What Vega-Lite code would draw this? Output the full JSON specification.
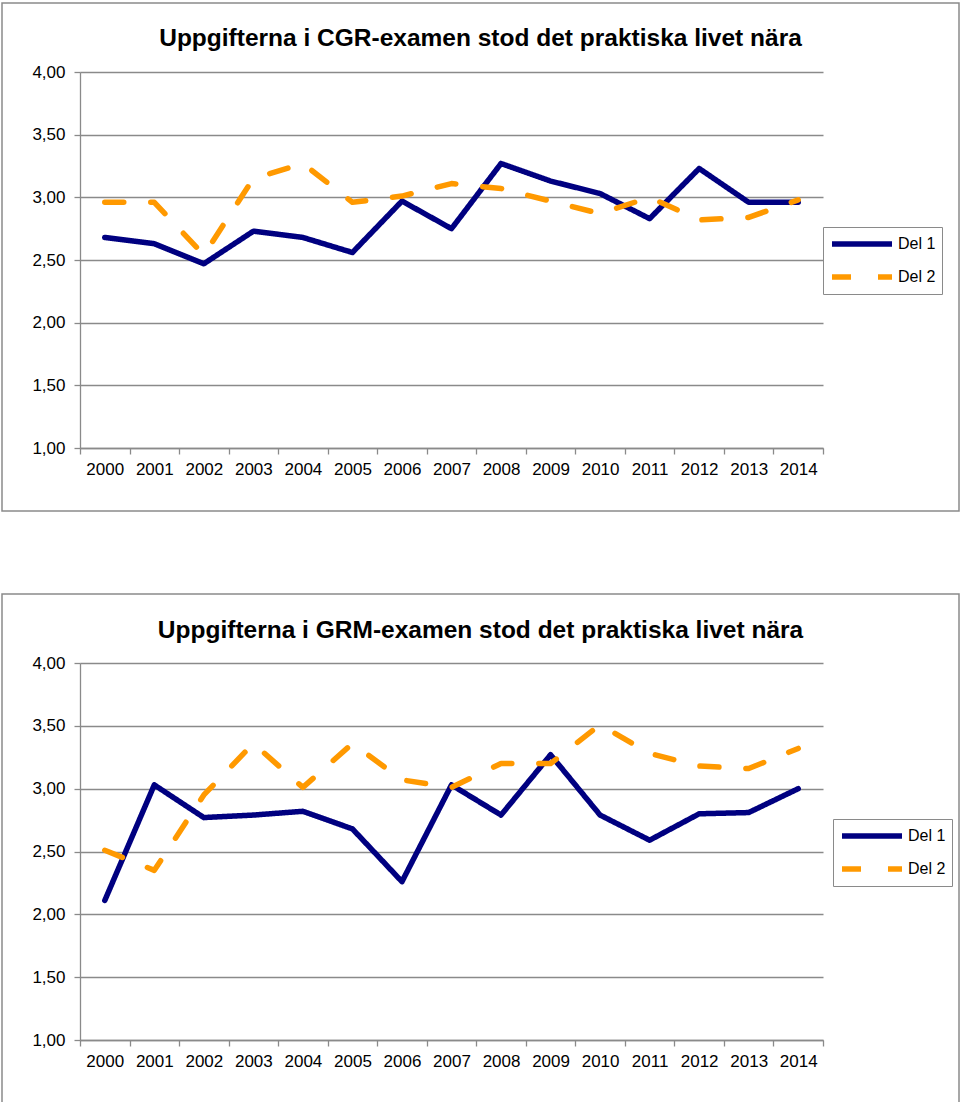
{
  "$schema": "https://vega.github.io/schema/vega-lite/v6.json",
  "padding": {"left": 1, "top": 2, "right": 0, "bottom": 0},
  "autosize": {"type": "pad"},
  "spacing": 81,
  "background": "white",
  "resolve": {
    "scale": {"color": "independent", "strokeDash": "independent"},
    "legend": {"color": "independent", "strokeDash": "independent"}
  },
  "config": {
    "font": "Liberation Sans",
    "view": {"stroke": "#8a8a8a", "strokeWidth": 1.5},
    "axis": {
      "domainColor": "#8a8a8a",
      "tickColor": "#8a8a8a",
      "gridColor": "#8a8a8a",
      "domainWidth": 1.3,
      "tickWidth": 1.3,
      "gridWidth": 1.3,
      "labelColor": "#000000",
      "labelFont": "Liberation Sans",
      "labelFontSize": 17,
      "title": null
    },
    "legend": {
      "orient": "none",
      "title": null,
      "strokeColor": "#8a8a8a",
      "fillColor": "white",
      "padding": 6,
      "symbolType": "stroke",
      "symbolSize": 3600,
      "symbolStrokeWidth": 5.5,
      "clipHeight": 22,
      "rowPadding": 11,
      "labelOffset": 3,
      "labelFontSize": 16,
      "labelColor": "#000000",
      "labelFont": "Liberation Sans"
    },
    "title": {"font": "Liberation Sans", "fontSize": 24.5, "fontWeight": "bold", "color": "#000000"}
  },
  "datasets": {
    "cgr": [
      {"year": "2000", "series": "Del 1", "value": 2.68},
      {"year": "2001", "series": "Del 1", "value": 2.63},
      {"year": "2002", "series": "Del 1", "value": 2.47},
      {"year": "2003", "series": "Del 1", "value": 2.73},
      {"year": "2004", "series": "Del 1", "value": 2.68},
      {"year": "2005", "series": "Del 1", "value": 2.56},
      {"year": "2006", "series": "Del 1", "value": 2.97},
      {"year": "2007", "series": "Del 1", "value": 2.75},
      {"year": "2008", "series": "Del 1", "value": 3.27},
      {"year": "2009", "series": "Del 1", "value": 3.13},
      {"year": "2010", "series": "Del 1", "value": 3.03},
      {"year": "2011", "series": "Del 1", "value": 2.83},
      {"year": "2012", "series": "Del 1", "value": 3.23},
      {"year": "2013", "series": "Del 1", "value": 2.96},
      {"year": "2014", "series": "Del 1", "value": 2.96},
      {"year": "2000", "series": "Del 2", "value": 2.96},
      {"year": "2001", "series": "Del 2", "value": 2.96},
      {"year": "2002", "series": "Del 2", "value": 2.54},
      {"year": "2003", "series": "Del 2", "value": 3.15},
      {"year": "2004", "series": "Del 2", "value": 3.27},
      {"year": "2005", "series": "Del 2", "value": 2.96},
      {"year": "2006", "series": "Del 2", "value": 3.01},
      {"year": "2007", "series": "Del 2", "value": 3.11},
      {"year": "2008", "series": "Del 2", "value": 3.07},
      {"year": "2009", "series": "Del 2", "value": 2.97},
      {"year": "2010", "series": "Del 2", "value": 2.87},
      {"year": "2011", "series": "Del 2", "value": 3.00},
      {"year": "2012", "series": "Del 2", "value": 2.82},
      {"year": "2013", "series": "Del 2", "value": 2.84},
      {"year": "2014", "series": "Del 2", "value": 2.98}
    ],
    "grm": [
      {"year": "2000", "series": "Del 1", "value": 2.11},
      {"year": "2001", "series": "Del 1", "value": 3.03},
      {"year": "2002", "series": "Del 1", "value": 2.77},
      {"year": "2003", "series": "Del 1", "value": 2.79},
      {"year": "2004", "series": "Del 1", "value": 2.82},
      {"year": "2005", "series": "Del 1", "value": 2.68},
      {"year": "2006", "series": "Del 1", "value": 2.26},
      {"year": "2007", "series": "Del 1", "value": 3.03},
      {"year": "2008", "series": "Del 1", "value": 2.79},
      {"year": "2009", "series": "Del 1", "value": 3.27},
      {"year": "2010", "series": "Del 1", "value": 2.79},
      {"year": "2011", "series": "Del 1", "value": 2.59},
      {"year": "2012", "series": "Del 1", "value": 2.80},
      {"year": "2013", "series": "Del 1", "value": 2.81},
      {"year": "2014", "series": "Del 1", "value": 3.00},
      {"year": "2000", "series": "Del 2", "value": 2.51},
      {"year": "2001", "series": "Del 2", "value": 2.35},
      {"year": "2002", "series": "Del 2", "value": 2.95},
      {"year": "2003", "series": "Del 2", "value": 3.36},
      {"year": "2004", "series": "Del 2", "value": 3.01},
      {"year": "2005", "series": "Del 2", "value": 3.36},
      {"year": "2006", "series": "Del 2", "value": 3.07},
      {"year": "2007", "series": "Del 2", "value": 3.01},
      {"year": "2008", "series": "Del 2", "value": 3.20},
      {"year": "2009", "series": "Del 2", "value": 3.20},
      {"year": "2010", "series": "Del 2", "value": 3.51},
      {"year": "2011", "series": "Del 2", "value": 3.28},
      {"year": "2012", "series": "Del 2", "value": 3.18},
      {"year": "2013", "series": "Del 2", "value": 3.16},
      {"year": "2014", "series": "Del 2", "value": 3.32}
    ]
  },
  "vconcat": [
    {
      "width": 957,
      "height": 508,
      "title": {"text": "Uppgifterna i CGR-examen stod det praktiska livet nära", "anchor": "middle", "frame": "group", "offset": -67, "baseline": "alphabetic"},
      "data": {"name": "cgr"},
      "mark": {"type": "line", "strokeWidth": 5.5, "strokeCap": "round", "strokeJoin": "round"},
      "encoding": {
        "x": {
          "field": "year", "type": "ordinal", "bandPosition": 0.5,
          "scale": {"type": "band", "range": [78, 821], "paddingInner": 0, "paddingOuter": 0},
          "axis": {"orient": "bottom", "offset": -63, "tickBand": "extent", "grid": false, "tickSize": 6, "labelPadding": 7, "labelAngle": 0}
        },
        "y": {
          "field": "value", "type": "quantitative",
          "scale": {"domain": [1, 4], "range": [445, 69], "nice": false, "zero": false},
          "axis": {"orient": "left", "offset": -78, "values": [1, 1.5, 2, 2.5, 3, 3.5, 4], "grid": true, "tickSize": 6, "labelPadding": 9, "labelExpr": "replace(format(datum.value, '.2f'), '.', ',')"}
        },
        "color": {
          "field": "series", "type": "nominal",
          "scale": {"domain": ["Del 1", "Del 2"], "range": ["#000080", "#FF9900"]},
          "legend": {"legendX": 821, "legendY": 224}
        },
        "strokeDash": {
          "field": "series", "type": "nominal",
          "scale": {"domain": ["Del 1", "Del 2"], "range": [[1, 0], [19, 27]]},
          "legend": {"legendX": 821, "legendY": 224}
        }
      }
    },
    {
      "width": 957,
      "height": 509,
      "title": {"text": "Uppgifterna i GRM-examen stod det praktiska livet nära", "anchor": "middle", "frame": "group", "offset": -68, "baseline": "alphabetic"},
      "data": {"name": "grm"},
      "mark": {"type": "line", "strokeWidth": 5.5, "strokeCap": "round", "strokeJoin": "round"},
      "encoding": {
        "x": {
          "field": "year", "type": "ordinal", "bandPosition": 0.5,
          "scale": {"type": "band", "range": [78, 821], "paddingInner": 0, "paddingOuter": 0},
          "axis": {"orient": "bottom", "offset": -63, "tickBand": "extent", "grid": false, "tickSize": 6, "labelPadding": 7, "labelAngle": 0}
        },
        "y": {
          "field": "value", "type": "quantitative",
          "scale": {"domain": [1, 4], "range": [446, 69], "nice": false, "zero": false},
          "axis": {"orient": "left", "offset": -78, "values": [1, 1.5, 2, 2.5, 3, 3.5, 4], "grid": true, "tickSize": 6, "labelPadding": 9, "labelExpr": "replace(format(datum.value, '.2f'), '.', ',')"}
        },
        "color": {
          "field": "series", "type": "nominal",
          "scale": {"domain": ["Del 1", "Del 2"], "range": ["#000080", "#FF9900"]},
          "legend": {"legendX": 831, "legendY": 225}
        },
        "strokeDash": {
          "field": "series", "type": "nominal",
          "scale": {"domain": ["Del 1", "Del 2"], "range": [[1, 0], [19, 27]]},
          "legend": {"legendX": 831, "legendY": 225}
        }
      }
    }
  ]
}
